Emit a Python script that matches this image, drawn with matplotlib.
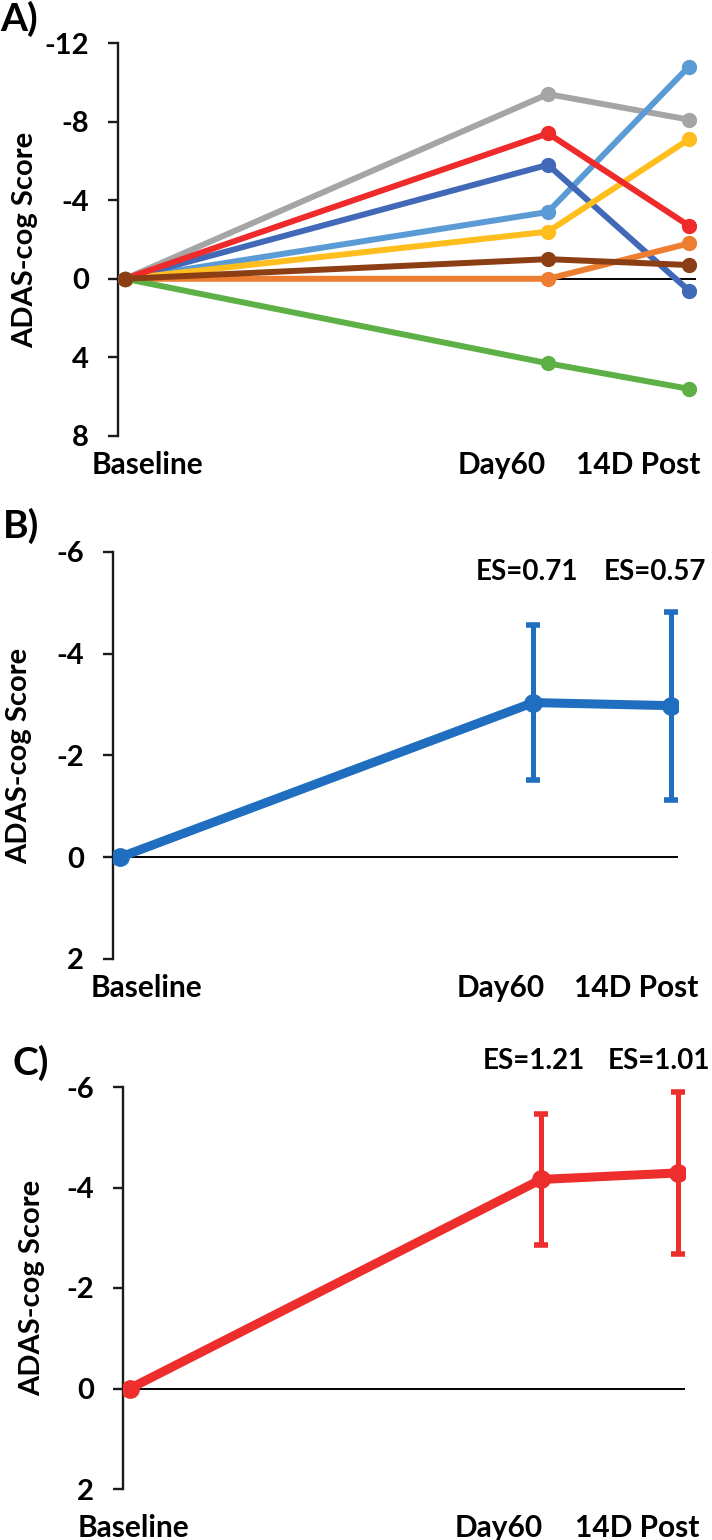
import matplotlib.pyplot as plt

plt.rcParams['font.family'] = ['Lato', 'DejaVu Sans']
plt.rcParams['font.weight'] = 'bold'
plt.rcParams['axes.labelweight'] = 'bold'
plt.rcParams['axes.unicode_minus'] = False

timepoints = ['Baseline', 'Day60', '14D Post']
x_pos = [0, 3, 4]

# panel A - individual subjects (change from baseline)
gray_scores = [0, -9.4, -8.1]
lightblue_scores = [0, -3.4, -10.8]
darkblue_scores = [0, -5.8, 0.6]
yellow_scores = [0, -2.4, -7.1]
red_scores = [0, -7.4, -2.7]
orange_scores = [0, 0.0, -1.8]
green_scores = [0, 4.3, 5.6]
brown_scores = [0, -1.0, -0.7]

# panel B / C - group means with error bars
b_mean = [0, -3.04, -2.98]
b_err = [0, 1.52, 1.85]
b_es = ['ES=0.71', 'ES=0.57']
c_mean = [0, -4.16, -4.29]
c_err = [0, 1.30, 1.61]
c_es = ['ES=1.21', 'ES=1.01']

W, H = 712, 1540
fig = plt.figure(figsize=(W / 100, H / 100), dpi=100)


def make_ax(x0, y0, x1, y1):
    return fig.add_axes([x0 / W, 1 - y1 / H, (x1 - x0) / W, (y1 - y0) / H])


def style(ax, ylim, yticks, label_x, ylab_x, pad):
    ax.set_xlim(-0.05, 4.05)
    ax.set_ylim(ylim)
    ax.set_yticks(yticks)
    ax.set_yticklabels([str(t) for t in yticks])
    ax.set_xticks(label_x)
    ax.set_xticklabels(timepoints)
    for s in ['top', 'right', 'bottom']:
        ax.spines[s].set_visible(False)
    ax.spines['left'].set_linewidth(1.7)
    ax.spines['left'].set_color('#1a1a1a')
    ax.tick_params(axis='y', length=7, width=1.7, labelsize=21, pad=14, color='#1a1a1a')
    ax.tick_params(axis='x', length=0, labelsize=21.5, pad=pad)
    ax.set_ylabel('ADAS-cog Score', fontsize=21)
    ax.yaxis.set_label_coords(ylab_x, 0.5)
    ax.axhline(0, color='black', lw=1.4, zorder=1)


# ---- A ----
axA = make_ax(118, 43, 696, 436)
series_a = [
    (gray_scores, '#A5A5A5'),
    (lightblue_scores, '#5B9BD5'),
    (darkblue_scores, '#4169B8'),
    (yellow_scores, '#FFBE1E'),
    (red_scores, '#EE2A2A'),
    (orange_scores, '#ED7D31'),
    (green_scores, '#5DB045'),
    (brown_scores, '#8B3E14'),
]
for vals, col in series_a:
    axA.plot(x_pos, vals, color=col, lw=4.3, marker='o', ms=10, zorder=3)
style(axA, (8, -12), [-12, -8, -4, 0, 4, 8], [0.156, 2.67, 3.64], -0.138, 11)

# ---- B ----
axB = make_ax(113, 552, 678, 959)
blue = '#1F6EBF'
axB.plot(x_pos, b_mean, color=blue, lw=6.5, marker='o', ms=12.5, zorder=3)
axB.errorbar(x_pos[1:], b_mean[1:], yerr=b_err[1:], fmt='none', ecolor=blue,
             elinewidth=3.6, capsize=5, capthick=4, zorder=3)
style(axB, (2, -6), [-6, -4, -2, 0, 2], [0.196, 2.76, 3.75], -0.143, 11)
for xi, txt in zip([2.955, 3.88], b_es):
    axB.text(xi, -5.6, txt, ha='center', va='center', fontsize=20)

# ---- C ----
axC = make_ax(123, 1087, 685, 1489)
red = '#EE2D2D'
axC.plot(x_pos, c_mean, color=red, lw=6.5, marker='o', ms=12.5, zorder=3)
axC.errorbar(x_pos[1:], c_mean[1:], yerr=c_err[1:], fmt='none', ecolor=red,
             elinewidth=3.6, capsize=5, capthick=4, zorder=3)
style(axC, (2, -6), [-6, -4, -2, 0, 2], [0.03, 2.69, 3.70], -0.138, 18)
for xi, txt in zip([2.945, 3.86], c_es):
    axC.text(xi, -6.51, txt, ha='center', va='center', fontsize=20, clip_on=False)

fig.text(0 / W, 1 - 19 / H, 'A)', fontsize=28, ha='left', va='center')
fig.text(3 / W, 1 - 526 / H, 'B)', fontsize=28, ha='left', va='center')
fig.text(12 / W, 1 - 1063 / H, 'C)', fontsize=28, ha='left', va='center')

fig.savefig('out.png', dpi=100)
